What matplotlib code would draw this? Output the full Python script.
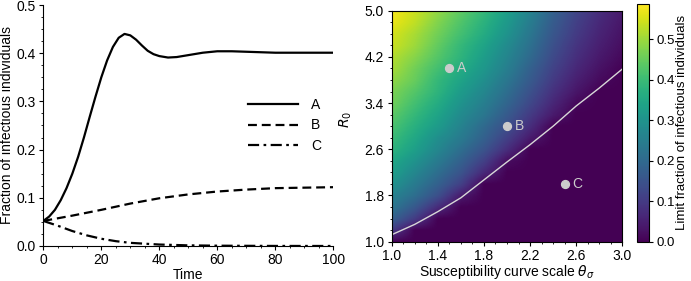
import numpy as np
import matplotlib
matplotlib.use("Agg")
import matplotlib.pyplot as plt
from matplotlib.ticker import AutoMinorLocator, MultipleLocator

plt.rcParams["font.family"] = ["Liberation Sans", "DejaVu Sans"]
plt.rcParams["font.size"] = 10
plt.rcParams["xtick.major.size"] = 3.2
plt.rcParams["ytick.major.size"] = 3.2
plt.rcParams["xtick.minor.size"] = 1.6
plt.rcParams["ytick.minor.size"] = 1.6
plt.rcParams["xtick.major.pad"] = 2.0
plt.rcParams["ytick.major.pad"] = 2.5

# Left panel: infectious fraction over time
time_a = [0, 2, 4, 6, 8, 10, 12, 14, 16, 18, 20, 22, 24, 26, 28, 30, 32, 34, 36, 38, 40,
          43, 46, 50, 55, 60, 65, 70, 75, 80, 90, 100]
frac_a = [0.052, 0.061, 0.075, 0.095, 0.12, 0.15, 0.185, 0.225, 0.268, 0.31, 0.35, 0.385,
          0.413, 0.432, 0.44, 0.437, 0.428, 0.416, 0.405, 0.398, 0.394,
          0.391, 0.392, 0.396, 0.401, 0.404, 0.404, 0.403, 0.402, 0.401, 0.401, 0.401]
time_b = [0, 10, 20, 30, 40, 50, 60, 70, 80, 90, 100]
frac_b = [0.052, 0.063, 0.075, 0.088, 0.099, 0.107, 0.113, 0.117, 0.12, 0.121, 0.122]
time_c = [0, 5, 10, 15, 20, 25, 30, 40, 50, 60, 80, 100]
frac_c = [0.052, 0.042, 0.031, 0.022, 0.015, 0.010, 0.0065, 0.003, 0.0013, 0.0006, 0.0001, 0.0]

# Right panel: limit fraction over (theta_sigma, R0)
theta = [1.0, 1.2, 1.4, 1.6, 1.8, 2.0, 2.2, 2.4, 2.6, 2.8, 3.0]
r0 = [1.0, 1.2, 1.4, 1.6, 1.8, 2.0, 2.2, 2.4, 2.6, 2.8, 3.0,
      3.2, 3.4, 3.6, 3.8, 4.0, 4.2, 4.4, 4.6, 4.8, 5.0]
# rows = r0 (bottom to top), columns = theta
limit_frac = [
    [0.00, 0.00, 0.00, 0.00, 0.00, 0.00, 0.00, 0.00, 0.00, 0.00, 0.00],
    [0.10, 0.00, 0.00, 0.00, 0.00, 0.00, 0.00, 0.00, 0.00, 0.00, 0.00],
    [0.18, 0.10, 0.00, 0.00, 0.00, 0.00, 0.00, 0.00, 0.00, 0.00, 0.00],
    [0.23, 0.16, 0.07, 0.00, 0.00, 0.00, 0.00, 0.00, 0.00, 0.00, 0.00],
    [0.26, 0.21, 0.14, 0.04, 0.00, 0.00, 0.00, 0.00, 0.00, 0.00, 0.00],
    [0.30, 0.24, 0.18, 0.11, 0.00, 0.00, 0.00, 0.00, 0.00, 0.00, 0.00],
    [0.33, 0.27, 0.21, 0.15, 0.066, 0.00, 0.00, 0.00, 0.00, 0.00, 0.00],
    [0.35, 0.30, 0.24, 0.18, 0.11, 0.018, 0.00, 0.00, 0.00, 0.00, 0.00],
    [0.38, 0.33, 0.27, 0.21, 0.15, 0.075, 0.00, 0.00, 0.00, 0.00, 0.00],
    [0.40, 0.35, 0.29, 0.24, 0.18, 0.11, 0.04, 0.00, 0.00, 0.00, 0.00],
    [0.42, 0.37, 0.32, 0.26, 0.20, 0.14, 0.075, 0.00, 0.00, 0.00, 0.00],
    [0.44, 0.39, 0.34, 0.28, 0.23, 0.165, 0.10, 0.040, 0.00, 0.00, 0.00],
    [0.46, 0.41, 0.36, 0.30, 0.25, 0.19, 0.125, 0.062, 0.011, 0.00, 0.00],
    [0.47, 0.43, 0.38, 0.32, 0.27, 0.21, 0.145, 0.081, 0.033, 0.00, 0.00],
    [0.49, 0.45, 0.39, 0.34, 0.29, 0.23, 0.165, 0.099, 0.049, 0.015, 0.00],
    [0.51, 0.46, 0.41, 0.36, 0.31, 0.25, 0.18, 0.114, 0.064, 0.027, 0.002],
    [0.52, 0.48, 0.43, 0.38, 0.325, 0.265, 0.20, 0.129, 0.077, 0.039, 0.012],
    [0.54, 0.50, 0.445, 0.39, 0.34, 0.28, 0.215, 0.142, 0.088, 0.049, 0.020],
    [0.55, 0.51, 0.46, 0.41, 0.36, 0.30, 0.23, 0.156, 0.100, 0.058, 0.027],
    [0.57, 0.53, 0.475, 0.425, 0.375, 0.315, 0.245, 0.168, 0.110, 0.066, 0.034],
    [0.58, 0.54, 0.49, 0.44, 0.39, 0.33, 0.26, 0.18, 0.12, 0.075, 0.04],
]
# epidemic threshold curve
thr_theta = [1.0, 1.2, 1.4, 1.6, 1.8, 2.0, 2.2, 2.4, 2.6, 2.8, 3.0]
thr_r0 = [1.12, 1.30, 1.52, 1.76, 2.07, 2.38, 2.68, 3.0, 3.35, 3.66, 3.99]
# marked points
pt_names = ["A", "B", "C"]
pt_theta = [1.5, 2.0, 2.5]
pt_r0 = [4.0, 3.0, 2.0]

fig = plt.figure(figsize=(6.91, 2.81), dpi=100)

# ---- left panel
ax1 = fig.add_axes([0.0627, 0.1246, 0.4196, 0.8576])
ax1.plot(time_a, frac_a, color="black", linewidth=1.6, linestyle="-", label="A")
ax1.plot(time_b, frac_b, color="black", linewidth=1.6, linestyle=(0, (4, 2.2)), label="B")
ax1.plot(time_c, frac_c, color="black", linewidth=1.6, linestyle=(0, (5, 2, 1.2, 2)), label="C")
ax1.set_xlim(0, 100)
ax1.set_ylim(0, 0.5)
ax1.xaxis.set_major_locator(MultipleLocator(20))
ax1.yaxis.set_major_locator(MultipleLocator(0.1))
ax1.xaxis.set_minor_locator(AutoMinorLocator(4))
ax1.yaxis.set_minor_locator(AutoMinorLocator(4))
ax1.spines["top"].set_visible(False)
ax1.spines["right"].set_visible(False)
ax1.set_xlabel("Time")
ax1.set_ylabel("Fraction of infectious individuals")
ax1.xaxis.set_label_coords(0.5, -0.092)
ax1.yaxis.set_label_coords(-0.100, 0.5)
ax1.legend(loc="center right", bbox_to_anchor=(1.0, 0.5), frameon=False,
           handlelength=3.6, labelspacing=0.45, handletextpad=0.9)

# ---- right panel
ax2 = fig.add_axes([0.5669, 0.14, 0.3337, 0.822])
img = ax2.imshow(np.array(limit_frac), origin="lower", cmap="viridis",
                 vmin=0, vmax=0.587, interpolation="bilinear", aspect="auto",
                 extent=(theta[0] - 0.1, theta[-1] + 0.1, r0[0] - 0.1, r0[-1] + 0.1))
ax2.plot(thr_theta, thr_r0, color="#d8d8d8", linewidth=1.0)
ax2.scatter(pt_theta, pt_r0, s=32, color="#cccccc", zorder=3)
for name, tx, ty in zip(pt_names, pt_theta, pt_r0):
    ax2.text(tx + 0.07, ty, name, color="#cccccc", va="center", ha="left", fontsize=10)
ax2.set_xlim(1.0, 3.0)
ax2.set_ylim(1.0, 5.0)
ax2.set_xticks([1.0, 1.4, 1.8, 2.2, 2.6, 3.0])
ax2.set_yticks([1.0, 1.8, 2.6, 3.4, 4.2, 5.0])
ax2.xaxis.set_major_formatter("{x:.1f}")
ax2.yaxis.set_major_formatter("{x:.1f}")
ax2.xaxis.set_minor_locator(AutoMinorLocator(4))
ax2.yaxis.set_minor_locator(AutoMinorLocator(4))
ax2.set_xlabel(r"Susceptibility curve scale $\theta_\sigma$")
ax2.set_ylabel(r"$R_0$")
ax2.xaxis.set_label_coords(0.5, -0.094)
ax2.yaxis.set_label_coords(-0.165, 0.53)

cax = fig.add_axes([0.9223, 0.14, 0.017, 0.846])
cbar = fig.colorbar(img, cax=cax)
cbar.set_ticks([0.0, 0.1, 0.2, 0.3, 0.4, 0.5])
cbar.ax.yaxis.set_major_formatter("{x:.1f}")
cbar.ax.tick_params(labelsize=9.5, pad=2)
cbar.set_label("Limit fraction of infectious individuals", fontsize=9.5)
cbar.ax.yaxis.set_label_coords(3.3, 0.5)
cbar.outline.set_linewidth(0.8)

plt.savefig("out.png", dpi=100)
